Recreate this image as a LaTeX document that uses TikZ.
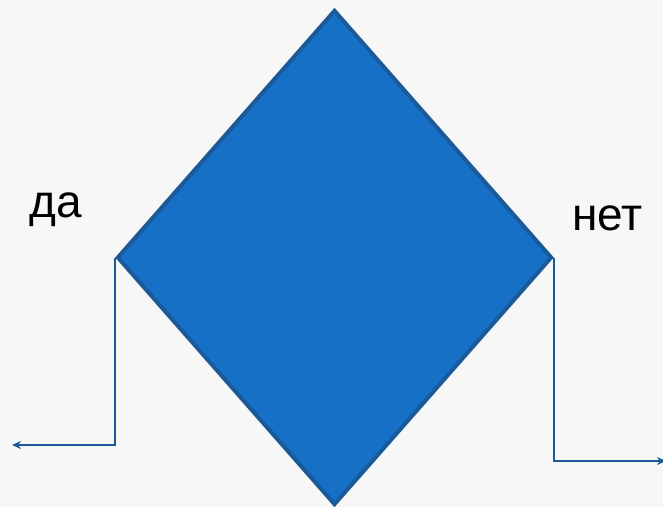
\documentclass[tikz,border=0pt]{standalone}
\usepackage{fontspec}
\setmainfont{Liberation Sans}
\usetikzlibrary{shapes.geometric,arrows.meta}
\definecolor{bg}{HTML}{F7F7F7}
\definecolor{dfill}{HTML}{1570C6}
\definecolor{dline}{HTML}{1B5A99}
\begin{document}
\begin{tikzpicture}[x=1pt,y=1pt,
  lbl/.style={font=\fontsize{46}{50}\selectfont, inner sep=0, anchor=base west},
  conn/.style={draw=dline, line width=2pt, -{Stealth[length=9pt,width=8pt]}}]
\fill[bg] (0,0) rectangle (663,507);
\useasboundingbox (0,0) rectangle (663,507);
\node[diamond, draw=dline, fill=dfill, line width=4pt, inner sep=0,
  minimum width=435pt, minimum height=495pt] (d) at (334.5,249.5) {};
\coordinate (la) at (12,62);
\coordinate (ra) at (666,46);
\draw[conn] (d.west) |- (la);
\draw[conn] (d.east) |- (ra);
\node[lbl] (yes) at (29,290) {да};
\node[lbl] (no) at (572,277) {нет};
\end{tikzpicture}
\end{document}
